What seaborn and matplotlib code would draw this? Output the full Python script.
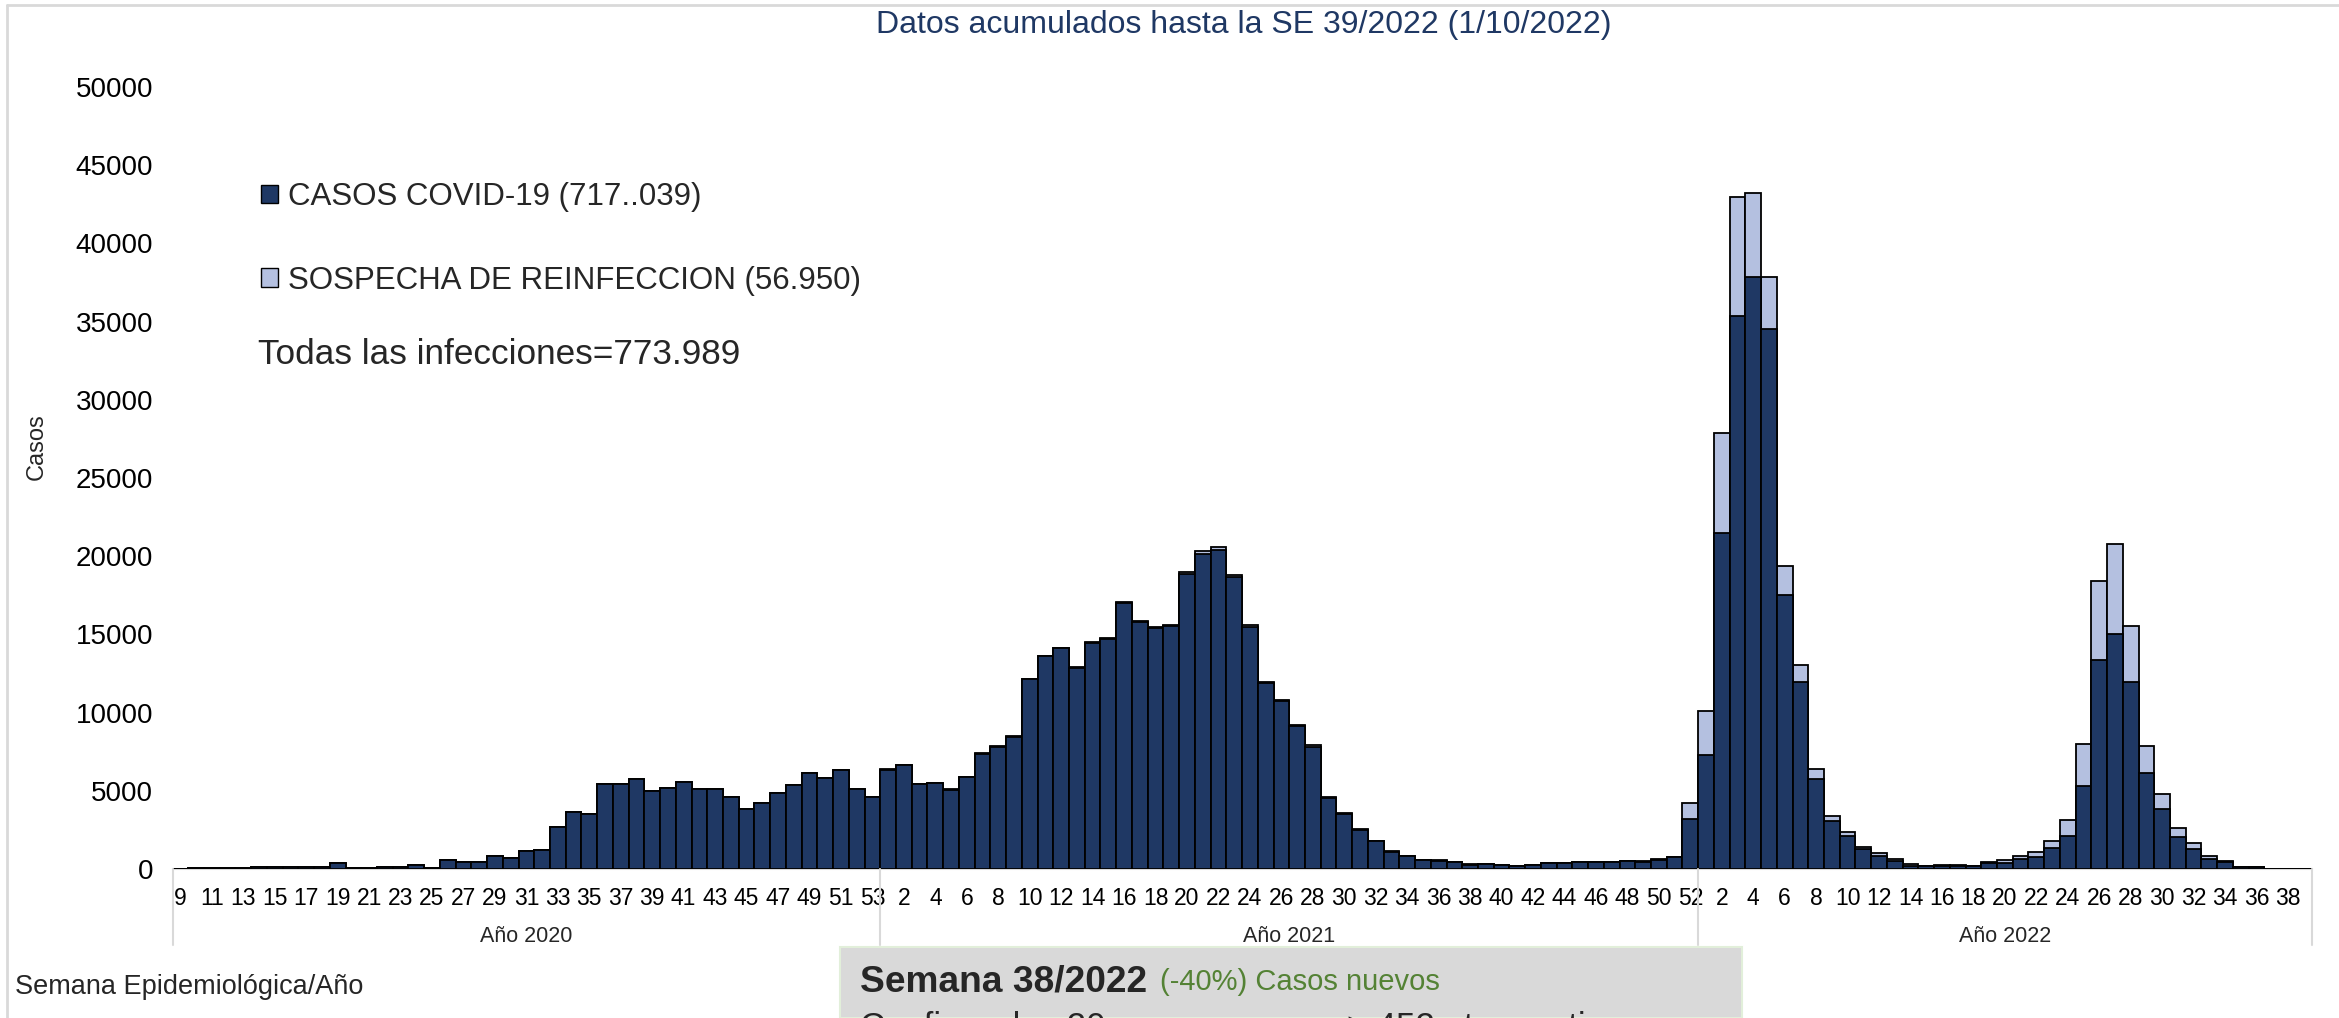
import matplotlib
matplotlib.use("Agg")
import matplotlib.pyplot as plt
from matplotlib.patches import Patch, Rectangle
from matplotlib.lines import Line2D
import matplotlib.transforms as mtransforms
import pandas as pd
import seaborn as sns

sns.set_theme(style="white")
plt.rcParams['font.family'] = ['Liberation Sans', 'DejaVu Sans']

# ---- datos (casos por semana epidemiologica) ----
sem_2020 = list(range(9, 54))
conf_2020 = [10, 40, 40, 40, 40, 100, 100, 100, 100, 100, 400, 85, 85, 130, 130,
             235, 85, 575, 450, 450, 810, 680, 1170, 1235, 2700, 3620, 3510, 5450,
             5450, 5770, 4980, 5195, 5580, 5090, 5090, 4580, 3830, 4215, 4875, 5345,
             6150, 5810, 6345, 5090, 4620]
reinf_2020 = [0] * 45

sem_2021 = list(range(1, 53))
conf_2021 = [6345, 6620, 5430, 5495, 5070, 5880, 7360, 7825, 8465, 12120, 13590,
             14100, 12840, 14460, 14690, 17015, 15820, 15395, 15525, 18860, 20150,
             20410, 18680, 15505, 11885, 10755, 9120, 7820, 4550, 3525, 2505, 1780,
             1100, 800, 575, 530, 445, 280, 320, 260, 190, 235, 380, 380, 440, 440,
             440, 480, 475, 600, 740, 3195]
reinf_2021 = [20, 20, 20, 20, 20, 20, 30, 30, 30, 60, 60, 60, 60, 60, 60, 60, 60,
              60, 60, 150, 200, 180, 120, 80, 80, 80, 80, 80, 30, 30, 30, 30, 30,
              30, 25, 25, 25, 20, 20, 20, 20, 20, 25, 25, 30, 30, 30, 30, 35, 40,
              50, 1000]

sem_2022 = list(range(1, 40))
conf_2022 = [7280, 21490, 35380, 37825, 34525, 17540, 11945, 5750, 3090, 2130, 1255,
             830, 530, 210, 170, 210, 210, 170, 380, 405, 640, 790, 1320, 2110, 5320,
             13350, 15050, 11945, 6110, 3820, 2040, 1280, 670, 470, 120, 120, 20, 20, 15]
reinf_2022 = [2810, 6380, 7595, 5385, 3300, 1835, 1085, 615, 295, 235, 130, 170, 110,
              90, 40, 70, 70, 40, 90, 150, 190, 295, 490, 1020, 2665, 5045, 5750,
              3575, 1770, 970, 600, 360, 170, 40, 30, 30, 5, 5, 5]

years = ["Año 2020", "Año 2021", "Año 2022"]

DARK = "#1f3864"
LIGHT = "#b4c0e0"

rows = []
for anio, sems, conf, reinf in [(2020, sem_2020, conf_2020, reinf_2020),
                                 (2021, sem_2021, conf_2021, reinf_2021),
                                 (2022, sem_2022, conf_2022, reinf_2022)]:
    for s, c, r in zip(sems, conf, reinf):
        rows.append({"anio": anio, "semana": s, "clave": f"{anio}-{s:02d}",
                     "confirmados": c, "reinfeccion": r})
df = pd.DataFrame(rows)
df["total"] = df.confirmados + df.reinfeccion
orden = list(df.clave)

W, H = 2339, 1018
fig = plt.figure(figsize=(W / 100, H / 100), dpi=100)
x0, x1, y0, y1 = 172.5, 2311.6, 869, 87
ax = fig.add_axes([x0 / W, 1 - y0 / H, (x1 - x0) / W, (y0 - y1) / H])

# barras apiladas: total (claro) detras, confirmados (oscuro) delante
sns.barplot(data=df, x="clave", y="total", order=orden, color=LIGHT, saturation=1,
            edgecolor="black", linewidth=1.3, width=1, errorbar=None, ax=ax)
sns.barplot(data=df, x="clave", y="confirmados", order=orden, color=DARK, saturation=1,
            edgecolor="black", linewidth=1.3, width=1, errorbar=None, ax=ax)

ax.set_xlim(-0.5, len(df) - 0.5)
ax.set_ylim(0, 50000)
ax.set_yticks(range(0, 50001, 5000))
ax.tick_params(axis="y", length=0, pad=14, labelsize=20, labelcolor="black")
ticks = list(range(0, len(df), 2))
ax.set_xticks(ticks)
ax.set_xticklabels([str(df.semana[i]) for i in ticks])
ax.tick_params(axis="x", length=0, pad=13, labelsize=16.5, labelcolor="black")
ax.set_xlabel("")
ax.set_ylabel("")
for sp in ["top", "right", "left"]:
    ax.spines[sp].set_visible(False)
ax.spines["bottom"].set_color("#d9d9d9")
ax.spines["bottom"].set_linewidth(1.5)
ax.spines["bottom"].set_zorder(0)

# eje de categorias de dos niveles
trans = mtransforms.blended_transform_factory(ax.transData, ax.transAxes)
y_low = (y0 - 945) / (y0 - y1)
y_txt = (y0 - 936) / (y0 - y1)
bordes = [-0.5, len(sem_2020) - 0.5, len(sem_2020) + len(sem_2021) - 0.5, len(df) - 0.5]
for b in bordes:
    ax.add_line(Line2D([b, b], [0, y_low], transform=trans, color="#d9d9d9",
                       lw=1.5, clip_on=False))
for i, lab in enumerate(years):
    ax.text((bordes[i] + bordes[i + 1]) / 2, y_txt, lab, transform=trans,
            ha="center", va="center", fontsize=15.5)

# leyenda
handles = [Patch(facecolor=DARK, edgecolor="black", lw=1),
           Patch(facecolor=LIGHT, edgecolor="black", lw=1)]
fig.legend(handles, ["CASOS COVID-19 (717..039)", "SOSPECHA DE REINFECCION (56.950)"],
           loc="upper left", bbox_to_anchor=(261 / W, 1 - 182 / H), frameon=False,
           fontsize=22.5, handlelength=0.55, handleheight=0.55, handletextpad=0.3,
           labelspacing=1.72, borderpad=0, borderaxespad=0)
fig.text(258 / W, 1 - 354 / H, "Todas las infecciones=773.989", fontsize=25.3,
         va="center", ha="left")

# textos
fig.text(1244 / W, 1 - 25 / H, "Datos acumulados hasta la SE 39/2022 (1/10/2022)",
         ha="center", va="center", fontsize=23, color=DARK)
fig.text(37 / W, 1 - 447 / H, "Casos", rotation=90, ha="center", va="center",
         fontsize=17)
fig.text(15 / W, 1 - 987 / H, "Semana Epidemiológica/Año", ha="left", va="center",
         fontsize=19.5)

# recuadro inferior
fig.patches.append(Rectangle((840 / W, 0), (1742 - 840) / W, 1 - 947 / H,
                             transform=fig.transFigure, facecolor="#d9d9d9",
                             edgecolor="#e2efda", lw=1.5))
fig.text(860 / W, 1 - 982 / H, "Semana 38/2022", fontsize=26.7, fontweight="bold",
         ha="left", va="center")
fig.text(1160 / W, 1 - 982 / H, "(-40%) Casos nuevos", fontsize=21,
         color="#548235", ha="left", va="center")
fig.text(860 / W, 1 - 1037 / H, "Confirmados 20 casos nuevos  > 452 otros activos",
         fontsize=25, ha="left", va="baseline")

# marco del grafico
fig.add_artist(Line2D([7 / W, 1], [1 - 5 / H, 1 - 5 / H], transform=fig.transFigure,
                      color="#d9d9d9", lw=2))
fig.add_artist(Line2D([7 / W, 7 / W], [0, 1 - 5 / H], transform=fig.transFigure,
                      color="#d9d9d9", lw=2))

fig.savefig("out.png", dpi=100, facecolor="white")
